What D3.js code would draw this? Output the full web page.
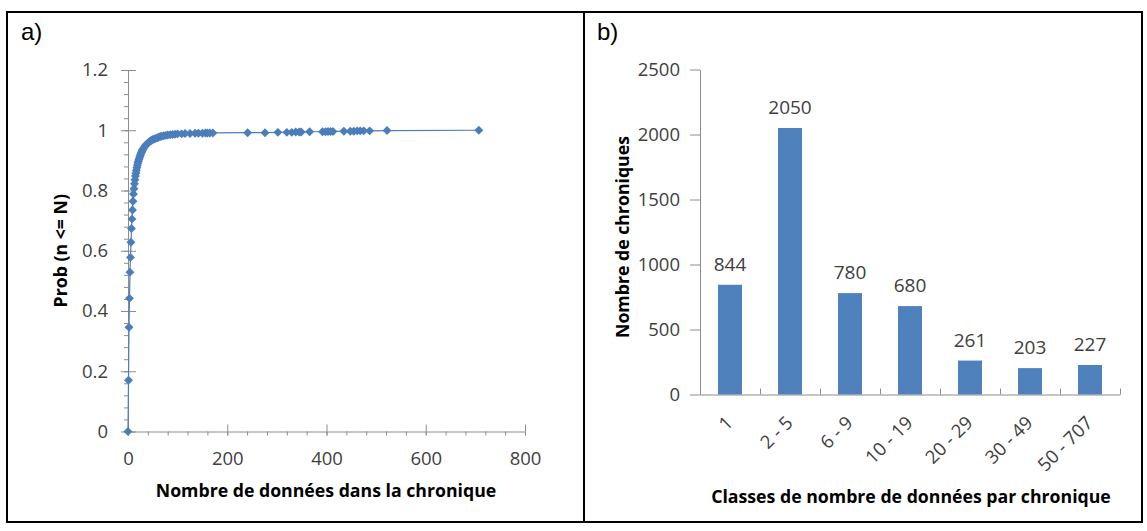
<!DOCTYPE html>
<html>
<head>
<meta charset="utf-8">
<script src="https://cdn.jsdelivr.net/npm/d3@7"></script>
<style>
  body { margin: 0; background: #fff; }
  text { font-family: "Open Sans", sans-serif; }
  .tick text { fill: #404040; font-size: 18.5px; }
  .axis path, .axis line { stroke: #8c8c8c; }
  .title { font-weight: bold; font-size: 17.7px; fill: #000; }
  .panel { font-family: "Liberation Sans", Arial, sans-serif; font-size: 24px; fill: #000; }
</style>
</head>
<body>
<svg id="chart" width="1147" height="531"></svg>
<script>
// --- panel a : cumulative probability vs number of data per series ---
const cdfN = [0, 1, 2, 3, 4, 5, 6, 7, 8, 9, 10, 11, 12, 13, 14, 15, 16, 17, 18, 19,
  20, 21, 22, 23, 24, 25, 26, 27, 28, 29, 30, 32, 34, 36, 38, 40, 42, 44, 46, 48,
  50, 53, 56, 59, 62, 65, 68, 72, 76, 80, 85, 90, 95, 100, 108, 115, 125, 135, 142, 150,
  156, 160, 165, 171, 241, 276, 302, 320, 330, 338, 345, 349, 366, 392, 398, 403, 408, 413,
  435, 448, 455, 462, 468, 475, 487, 522, 707];
const cdfP = [0, 0.170, 0.346, 0.442, 0.529, 0.578, 0.628, 0.674, 0.705, 0.735, 0.764, 0.788, 0.806, 0.822, 0.836, 0.848, 0.858, 0.867, 0.876, 0.884,
  0.891, 0.897, 0.903, 0.908, 0.913, 0.918, 0.922, 0.926, 0.930, 0.934, 0.937, 0.942, 0.947, 0.951, 0.954, 0.957, 0.960, 0.963, 0.965, 0.967,
  0.969, 0.971, 0.973, 0.975, 0.977, 0.979, 0.980, 0.982, 0.983, 0.984, 0.985, 0.986, 0.987, 0.988, 0.988, 0.989, 0.989, 0.990, 0.990, 0.990,
  0.991, 0.991, 0.991, 0.991, 0.992, 0.992, 0.993, 0.993, 0.993, 0.994, 0.994, 0.994, 0.995, 0.995, 0.995, 0.996, 0.996, 0.996,
  0.997, 0.997, 0.997, 0.998, 0.998, 0.998, 0.998, 0.999, 1.0];
const xTicksA = [0, 200, 400, 600, 800];
const yTicksA = [0, 0.2, 0.4, 0.6, 0.8, 1, 1.2];

// --- panel b : number of series per class ---
const classes = ["1", "2 - 5", "6 - 9", "10 - 19", "20 - 29", "30 - 49", "50 - 707"];
const counts = [844, 2050, 780, 680, 261, 203, 227];
const yTicksB = [0, 500, 1000, 1500, 2000, 2500];

const blue = "#4f81bd";
const svg = d3.select("#chart");

svg.append("rect").attr("width", 1147).attr("height", 531).attr("fill", "#fff");

// frame + divider
svg.append("rect")
    .attr("x", 7).attr("y", 12).attr("width", 1135).attr("height", 510)
    .attr("fill", "none").attr("stroke", "#000").attr("stroke-width", 2);
svg.append("line")
    .attr("x1", 584).attr("x2", 584).attr("y1", 12).attr("y2", 522)
    .attr("stroke", "#000").attr("stroke-width", 2);

svg.append("text").attr("class", "panel").attr("x", 21).attr("y", 40).text("a)");
svg.append("text").attr("class", "panel").attr("x", 597).attr("y", 40).text("b)");

// ================= panel a =================
const xA = d3.scaleLinear().domain([0, 800]).range([128, 525]);
const yA = d3.scaleLinear().domain([0, 1.2]).range([431.5, 70]);
const gA = svg.append("g");

// minor ticks
gA.append("g").attr("class", "axis").attr("transform", `translate(0,${yA(0)})`)
    .call(d3.axisBottom(xA).tickValues(d3.range(0, 801, 40)).tickSize(4).tickFormat(""))
    .call(g => g.select(".domain").remove());
gA.append("g").attr("class", "axis").attr("transform", `translate(${xA(0)},0)`)
    .call(d3.axisLeft(yA).tickValues(d3.range(0, 1.2001, 0.04)).tickSize(4).tickFormat(""))
    .call(g => g.select(".domain").remove());

// major ticks crossing the axis
gA.append("g").attr("class", "axis").attr("transform", `translate(0,${yA(0)})`)
    .call(d3.axisTop(xA).tickValues(xTicksA).tickSize(7).tickFormat(""))
    .call(g => g.select(".domain").remove());
gA.append("g").attr("class", "axis").attr("transform", `translate(${xA(0)},0)`)
    .call(d3.axisRight(yA).tickValues(yTicksA).tickSize(8).tickFormat(""))
    .call(g => g.select(".domain").remove());

const xAxisA = gA.append("g").attr("class", "axis").attr("transform", `translate(0,${yA(0)})`)
    .call(d3.axisBottom(xA).tickValues(xTicksA).tickSizeInner(4).tickSizeOuter(0).tickFormat(d3.format("d")));
xAxisA.selectAll(".tick text").attr("y", 20);

const yAxisA = gA.append("g").attr("class", "axis").attr("transform", `translate(${xA(0)},0)`)
    .call(d3.axisLeft(yA).tickValues(yTicksA).tickSizeInner(7).tickSizeOuter(0).tickFormat(d => String(d)));
yAxisA.selectAll(".tick text").attr("x", -20);

const cdf = cdfN.map((n, i) => ({ n: n, p: cdfP[i] }));
gA.append("path")
    .datum(cdf)
    .attr("fill", "none")
    .attr("stroke", "#4a7ebb")
    .attr("stroke-width", 1.2)
    .attr("d", d3.line().x(d => xA(d.n)).y(d => yA(d.p)));

const diamond = d3.symbol().type(d3.symbolSquare).size(40);
gA.selectAll(".pt")
    .data(cdf)
    .enter().append("path")
    .attr("class", "pt")
    .attr("d", diamond)
    .attr("fill", "#4a7ebb")
    .attr("transform", d => `translate(${xA(d.n)},${yA(d.p)}) rotate(45)`);

gA.append("text").attr("class", "title")
    .attr("transform", `translate(60,${(yA(0) + yA(1.2)) / 2}) rotate(-90)`)
    .attr("text-anchor", "middle").attr("dominant-baseline", "central")
    .text("Prob (n <= N)");
gA.append("text").attr("class", "title")
    .attr("x", 326).attr("y", 497)
    .attr("text-anchor", "middle")
    .text("Nombre de données dans la chronique");

// ================= panel b =================
const xB = d3.scaleBand().domain(classes).range([700, 1120]);
const yB = d3.scaleLinear().domain([0, 2500]).range([394.5, 69.5]);
const gB = svg.append("g");
const bw = xB.bandwidth();

const yAxisB = gB.append("g").attr("class", "axis").attr("transform", `translate(${xB.range()[0]},0)`)
    .call(d3.axisLeft(yB).tickValues(yTicksB).tickSizeInner(10).tickSizeOuter(0).tickFormat(d3.format("d")));
yAxisB.selectAll(".tick text").attr("x", -20);

// category boundary ticks (pointing up)
const edges = d3.scaleLinear().domain([0, classes.length]).range(xB.range());
gB.append("g").attr("class", "axis").attr("transform", `translate(0,${yB(0)})`)
    .call(d3.axisTop(edges).tickValues(d3.range(1, classes.length + 1)).tickSize(6).tickSizeOuter(0).tickFormat(""));

gB.selectAll(".bar")
    .data(counts)
    .enter().append("rect")
    .attr("class", "bar")
    .attr("x", (d, i) => xB(classes[i]) + bw * 0.3)
    .attr("width", bw * 0.4)
    .attr("y", d => yB(d))
    .attr("height", d => yB(0) - yB(d))
    .attr("fill", blue);

gB.selectAll(".val")
    .data(counts)
    .enter().append("text")
    .attr("class", "val")
    .attr("x", (d, i) => xB(classes[i]) + bw / 2)
    .attr("y", d => yB(d) - 14)
    .attr("text-anchor", "middle")
    .attr("font-size", 19)
    .attr("fill", "#404040")
    .text(d => d);

gB.selectAll(".cat")
    .data(classes)
    .enter().append("text")
    .attr("class", "cat")
    .attr("transform", d => `translate(${xB(d) + bw / 2 + 4},424) rotate(-45)`)
    .attr("text-anchor", "end")
    .attr("font-size", 18.5)
    .attr("fill", "#404040")
    .text(d => d);

gB.append("text").attr("class", "title")
    .attr("transform", `translate(622,${(yB(0) + yB(2500)) / 2 + 5}) rotate(-90)`)
    .attr("text-anchor", "middle").attr("dominant-baseline", "central")
    .text("Nombre de chroniques");
gB.append("text").attr("class", "title")
    .attr("x", 911).attr("y", 503)
    .attr("text-anchor", "middle")
    .text("Classes de nombre de données par chronique");
</script>
</body>
</html>
